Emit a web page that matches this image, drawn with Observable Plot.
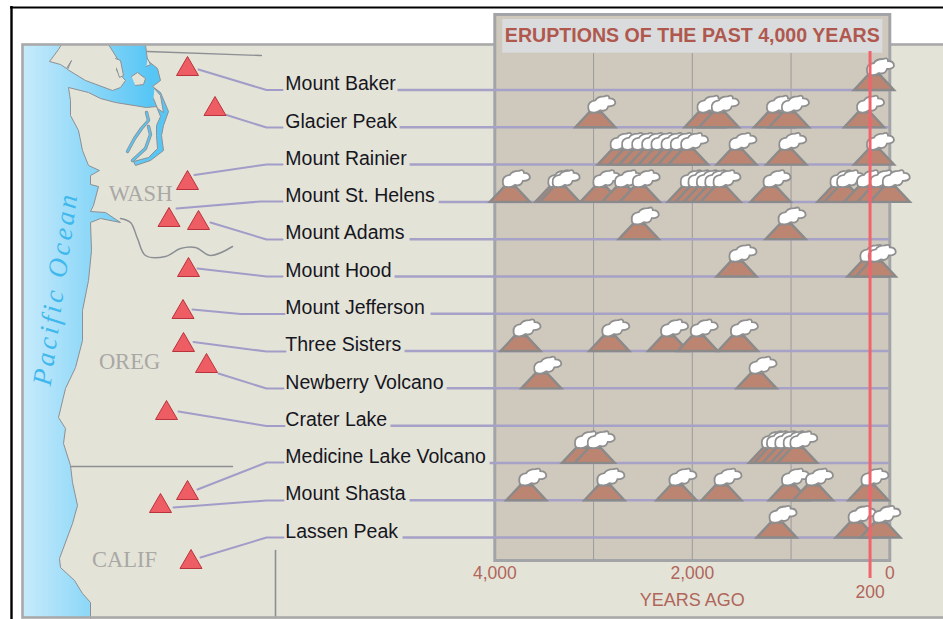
<!DOCTYPE html>
<html><head><meta charset="utf-8">
<script src="https://cdn.jsdelivr.net/npm/d3@7"></script>
<script src="https://cdn.jsdelivr.net/npm/@observablehq/plot@0.6"></script>
<style>
html,body{margin:0;padding:0;background:#fff}
#c{position:relative;width:943px;height:619px;overflow:hidden}
#c svg{position:absolute;left:0;top:0;background:transparent;overflow:visible}
</style></head><body><div id="c"></div>
<script>
// Eruptions: years ago
const volcanoes = ["Mount Baker","Glacier Peak","Mount Rainier","Mount St. Helens","Mount Adams","Mount Hood","Mount Jefferson","Three Sisters","Newberry Volcano","Crater Lake","Medicine Lake Volcano","Mount Shasta","Lassen Peak"];
const eruptionsBaker = [160];
const eruptionsGlacier = [2982,1876,1731,1173,1021,260];
const eruptionsRainier = [2756,2640,2538,2437,2343,2241,2147,2042,1552,1048,160];
const eruptionsHelens = [3847,3387,3343,2931,2711,2532,2046,1968,1883,1798,1714,1207,530,463,260,125,0];
const eruptionsAdams = [2542,1055];
const eruptionsHood = [1552,226,142];
const eruptionsJefferson = [];
const eruptionsSisters = [3739,2840,2245,1944,1538];
const eruptionsNewberry = [3529,1349];
const eruptionsCrater = [];
const eruptionsMedicine = [3117,2988,1224,1173,1089,1004,936];
const eruptionsShasta = [3681,2890,2160,1704,1021,778,216];
const eruptionsLassen = [1146,345,95];
const eruptionLists = [eruptionsBaker,eruptionsGlacier,eruptionsRainier,eruptionsHelens,eruptionsAdams,eruptionsHood,eruptionsJefferson,eruptionsSisters,eruptionsNewberry,eruptionsCrater,eruptionsMedicine,eruptionsShasta,eruptionsLassen];
const rowLineStart = [4980,4959,4858,4564,4858,5010,4645,4909,4483,5051,4047,4858,4929];
const xTicks = [4000,2000,0];
const gridYears = [3000,2000,1000];

// Map layer, in map units
const land = [[145,44],[147,60],[157,68],[160,80],[152,86],[160,92],[168,111],[163,125],[161,135],[163,150],[150,160],[135,165],[133,161],[148,157],[157,148],[156,135],[156,125],[160,116],[156,106],[146,107],[115,102],[100,98],[88,92],[68,87],[70,100],[70,115],[78,130],[82,150],[88,165],[99,170],[90,175],[90,184],[98,186],[93,205],[90,211],[105,212],[120,222],[100,218],[90,222],[91,250],[88,280],[82,310],[82,340],[75,367],[65,388],[58,417],[65,428],[63,443],[70,465],[72,482],[77,505],[72,523],[59,558],[60,567],[74,580],[82,593],[90,602],[90,620],[950,620],[950,44]];
const vancouverIsland = [[61,44],[58,49],[49,61],[60,64],[66,68],[71,60],[67,69],[85,80],[112,90],[120,87],[125,80],[116,70],[118,60],[108,44]];
const islands = [
  [[115,58],[120,60],[123,75],[119,77],[116,68]],
  [[131,76],[137,72],[145,78],[143,84],[135,85]],
  [[154,88],[160,95],[163,112],[157,108],[153,98]],
  [[147,58],[150,64],[146,66]]
];
const hoodCanal = [[127,151],[134,138],[141,128],[148,120],[146,112]];
const puget2 = [[132,160],[145,148],[150,134],[148,126]];
const columbia = [[120,218],[130,222],[137,238],[145,255],[165,256],[180,248],[195,247],[210,255],[232,246]];
const canadaLine = [[147,51],[261,55]];
const caliLine = [[70,466],[232,466]];
const nevadaLine = [[275,550],[275,617]];
const triangleX = [187,214.5,187,168.5,198,188,182.5,183,206,166,187,160,190.5];
const triangleY = [75,115,189,226,229,276,318,351,372,419,499,512,568];
const leaders = [
  [[198,69],[266,89.5],[282,89.5]],
  [[226,114.5],[266,127],[282,127]],
  [[194,174.5],[266,164],[282,164]],
  [[176,208],[260,201],[282,201]],
  [[210,222],[266,239],[282,239]],
  [[197,268],[266,276],[282,276]],
  [[192,309],[240,313.5],[284,313.5]],
  [[193,341.5],[266,351],[285,351]],
  [[218,373],[266,388],[283,388]],
  [[178,411],[266,425.5],[284,425.5]],
  [[197,489],[266,462],[283,462]],
  [[173,507],[266,500],[283,500]],
  [[200,557],[266,537],[283,537]]
];
const regionNames = ["WASH","OREG","CALIF"];
const regionX = [140,129,124];
const regionY = [193,361,559];

const eruptions = eruptionLists.flatMap((list,i)=>list.map(year=>({year,volcano:volcanoes[i]})));
const rows = volcanoes.map((name,i)=>({name,start:rowLineStart[i]}));

const coneSymbol = {draw(c){c.moveTo(-20,0);c.lineTo(20,0);c.lineTo(6,-15);c.lineTo(-6,-15);c.closePath();}};
const smokeSymbol = {draw(c){
  c.moveTo(-7,-19);c.quadraticCurveTo(-8,-26,0,-27);c.quadraticCurveTo(2,-31,9,-31);
  c.quadraticCurveTo(14,-33,14,-29);c.quadraticCurveTo(20,-29,20,-24);c.quadraticCurveTo(19,-21,13,-21);
  c.quadraticCurveTo(11,-15,5,-17);c.quadraticCurveTo(1,-14,-3,-15);c.quadraticCurveTo(-7,-15,-7,-19);c.closePath();}};
const triangleSymbol = {draw(c){c.moveTo(-11,0);c.lineTo(11,0);c.lineTo(0,-19);c.closePath();}};

const px = d=>d[0], py = d=>d[1];
const landStyle = {x:px,y:py,fill:"#E4E3D8",stroke:"#8C9094",strokeWidth:1};
const gradient = ()=>{
  const d = d3.create("svg:defs");
  const g = d.append("linearGradient").attr("id","ocean").attr("gradientUnits","userSpaceOnUse")
    .attr("x1",24).attr("x2",150).attr("y1",0).attr("y2",0);
  g.append("stop").attr("offset",0).attr("stop-color","#C6EAFB");
  g.append("stop").attr("offset",1).attr("stop-color","#58C6F5");
  return d.node();
};

const mapPlot = Plot.plot({
  width:943,height:619,margin:0,
  x:{domain:[0,943],range:[0,943],axis:null},
  y:{domain:[0,619],range:[0,619],axis:null},
  marks:[
    gradient,
    Plot.rect([0],{x1:()=>23,x2:()=>943,y1:()=>45,y2:()=>617,fill:"url(#ocean)"}),
    Plot.line(vancouverIsland,{...landStyle}),
    Plot.line(land,{...landStyle}),
    ...islands.map(i=>Plot.line(i,{...landStyle})),
    ...[hoodCanal,puget2].flatMap(l=>[
      Plot.line(l,{x:px,y:py,stroke:"#8C9094",strokeWidth:3.4}),
      Plot.line(l,{x:px,y:py,stroke:"#5CC4F0",strokeWidth:1.8})]),
    Plot.line(columbia,{x:px,y:py,stroke:"#8C9094",strokeWidth:1.5,curve:"catmull-rom"}),
    Plot.line(canadaLine,{x:px,y:py,stroke:"#8C9094",strokeWidth:1.3}),
    Plot.line(caliLine,{x:px,y:py,stroke:"#8C9094",strokeWidth:1.3}),
    Plot.line(nevadaLine,{x:px,y:py,stroke:"#8C9094",strokeWidth:1.6}),
    Plot.rect([0],{x1:()=>22.5,x2:()=>946,y1:()=>44.5,y2:()=>617.5,fill:"none",stroke:"#A9A9AA",strokeWidth:2.6}),
    Plot.ruleX([11],{y1:()=>6,y2:()=>619,stroke:"#000",strokeWidth:2.4}),
    Plot.ruleY([7],{x1:()=>10,x2:()=>943,stroke:"#000",strokeWidth:2}),
    Plot.text(regionNames,{x:(d,i)=>regionX[i],y:(d,i)=>regionY[i],text:d=>d,fill:"#A9A8A4",fontFamily:"Liberation Serif",fontSize:22.5}),
    Plot.text(["Pacific Ocean"],{x:()=>55,y:()=>288,text:d=>d,rotate:-82,fill:"#3FB8EE",fontFamily:"Liberation Serif",fontStyle:"italic",fontSize:27}),
    ...leaders.map(l=>Plot.line(l,{x:px,y:py,stroke:"#A19DC8",strokeWidth:2})),
    Plot.dot(volcanoes,{x:(d,i)=>triangleX[i],y:(d,i)=>triangleY[i],symbol:triangleSymbol,fill:"#EE5D63",stroke:"#B9333C",strokeWidth:1})
  ]
});
d3.select(mapPlot).selectAll("text").filter(function(){return this.textContent==="Pacific Ocean";}).attr("letter-spacing","3.2px");

const chart = Plot.plot({
  width:943,height:619,
  marginLeft:494.3,marginRight:53.7,marginTop:14,marginBottom:59,
  x:{domain:[4000,0]},
  y:{type:"point",domain:volcanoes,range:[89.5,537],padding:0,round:false},
  marks:[
    Plot.frame({fill:"#CFC8BC",stroke:"#A3A4A7",strokeWidth:3}),
    Plot.rect([0],{x1:()=>3920,x2:()=>70,insetTop:5,insetBottom:507.3,fill:"#D9DBDD"}),
    Plot.ruleX(gridYears,{stroke:"#9B9C9C",strokeWidth:1,insetTop:39}),
    Plot.ruleY(rows,{y:"name",x1:"start",x2:()=>5,stroke:"#A6A1C6",strokeWidth:2.5}),
    Plot.dot(eruptions,{x:"year",y:"volcano",symbol:coneSymbol,fill:"#BC8572",stroke:"#8A8A8A",strokeWidth:2.4}),
    Plot.dot(eruptions,{x:"year",y:"volcano",symbol:smokeSymbol,fill:"#fff",stroke:"#8F8F8F",strokeWidth:1.8}),
    Plot.ruleX([200],{stroke:"#F2646C",strokeWidth:3,insetTop:37,insetBottom:-18}),
    Plot.axisY({anchor:"left",tickSize:0,label:null,textAnchor:"start",dx:-209.5,dy:-6,tickPadding:0,fill:"#16161e",fontFamily:"Liberation Sans",fontSize:19.5}),
    Plot.axisX(xTicks,{anchor:"bottom",tickSize:0,tickPadding:6,label:null,tickFormat:d=>d3.format(",")(d),fill:"#B0665A",fontFamily:"Liberation Sans",fontSize:17.5}),
    Plot.axisX([200],{anchor:"bottom",tickSize:0,tickPadding:25,label:null,fill:"#B0665A",fontFamily:"Liberation Sans",fontSize:17.5}),
    Plot.text(["YEARS AGO"],{x:()=>2000,frameAnchor:"bottom",dy:45,text:d=>d,fill:"#B0665A",fontFamily:"Liberation Sans",fontSize:18}),
    Plot.text(["ERUPTIONS OF THE PAST 4,000 YEARS"],{x:()=>2000,frameAnchor:"top",dy:14,text:d=>d,fill:"#B0584E",fontFamily:"Liberation Sans",fontWeight:"bold",fontSize:19.6})
  ]
});
document.getElementById("c").append(mapPlot,chart);
</script></body></html>
